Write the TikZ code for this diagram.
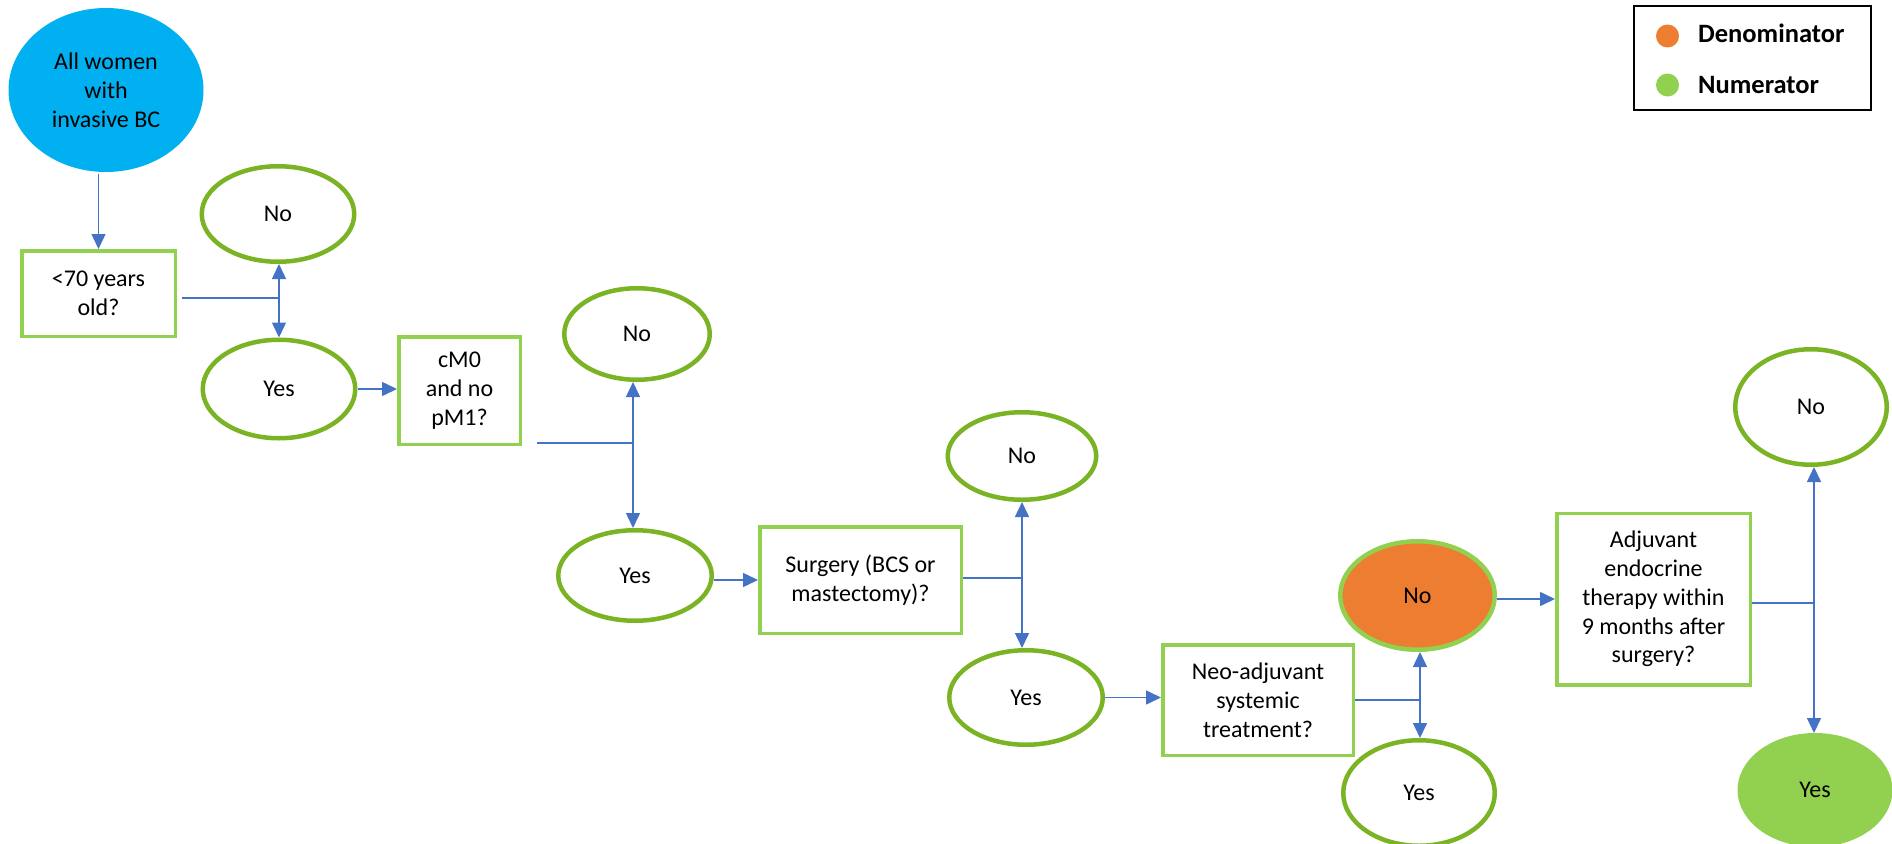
\documentclass[tikz,border=0pt]{standalone}
\usepackage{fontspec}
\setmainfont{Carlito}
\usetikzlibrary{shapes.geometric,arrows.meta}
\definecolor{dkgreen}{HTML}{7AB424}
\definecolor{ltgreen}{HTML}{92D050}
\definecolor{orng}{HTML}{ED7D31}
\definecolor{cyanb}{HTML}{00B0F0}
\definecolor{arrblue}{HTML}{4472C4}
\begin{document}
\begin{tikzpicture}[x=1pt,y=-1pt,
  txt/.style={font=\fontsize{24}{28.8}\selectfont, align=center, inner sep=0pt},
  qbox/.style={txt, rectangle, draw=ltgreen, line width=3.5pt, fill=white},
  oval/.style={txt, ellipse, draw=dkgreen, line width=4.5pt, fill=white},
  conn/.style={arrblue, line width=1.5pt},
  arr/.style={conn, -{Triangle[length=15pt,width=14pt]}},
  legtxt/.style={anchor=base west, inner sep=0pt, font=\bfseries\fontsize{26.5}{31}\selectfont},
  dot/.style={circle, inner sep=0pt, minimum size=23pt, draw=none},
]
\useasboundingbox (0,0) rectangle (1892,843);

% nodes
\node[oval, fill=cyanb, draw=none, minimum width=195, minimum height=164] (start) at (106,90) {All women\\with\\invasive BC};
\node[qbox, minimum width=153.5, minimum height=85.5] (q1) at (98.5,293.5) {<70 years\\old?};
\node[oval, minimum width=152.5, minimum height=95.5] (no1) at (278,214) {No};
\node[oval, minimum width=152.5, minimum height=98.5] (yes1) at (279,389) {Yes};
\node[qbox, minimum width=121.5, minimum height=107.5] (q2) at (459.5,390.5) {cM0\\and no\\pM1?};
\node[oval, minimum width=145.5, minimum height=91.5] (no2) at (637,334) {No};
\node[oval, minimum width=153.5, minimum height=90.5] (yes2) at (635,575.5) {Yes};
\node[qbox, minimum width=201.5, minimum height=106.5] (q3) at (860.5,580) {Surgery (BCS or\\mastectomy)?};
\node[oval, minimum width=148.5, minimum height=87.5] (no3) at (1022,456) {No};
\node[oval, minimum width=153.5, minimum height=94.5] (yes3) at (1026,697.5) {Yes};
\node[qbox, minimum width=190.5, minimum height=110.5] (q4) at (1258,700) {Neo-adjuvant\\systemic\\treatment?};
\node[oval, fill=orng, draw=ltgreen, minimum width=154.5, minimum height=108.5] (den) at (1417.5,595.5) {No};
\node[oval, minimum width=151.5, minimum height=105.5] (yes4) at (1419,793) {Yes};
\node[qbox, minimum width=193.5, minimum height=171.5] (q5) at (1653.5,599) {Adjuvant\\endocrine\\therapy within\\9 months after\\surgery?};
\node[oval, minimum width=151.5, minimum height=115.5] (no5) at (1811,407) {No};
\node[oval, fill=ltgreen, draw=ltgreen, minimum width=150.5, minimum height=109.5] (num) at (1815,790) {Yes};

% connectors
\draw[arr] (start.south -| q1.north) -- (q1.north);

\coordinate (j1s) at (182,298);
\coordinate (j1) at (279,298);
\draw[conn] (j1s) -- (j1);
\draw[arr] (j1) -- (j1 |- no1.south);
\draw[arr] (j1) -- (j1 |- yes1.north);
\draw[arr] (yes1.east) -- (yes1.east -| q2.west);

\coordinate (j2s) at (537,443);
\coordinate (j2) at (633,443);
\draw[conn] (j2s) -- (j2);
\draw[arr] (j2) -- (j2 |- no2.south);
\draw[arr] (j2) -- (j2 |- yes2.north);
\draw[arr] (q3.west -| yes2.east) -- (q3.west);

\coordinate (j3) at (1022,578);
\draw[conn] (q3.east |- j3) -- (j3);
\draw[arr] (j3) -- (j3 |- no3.south);
\draw[arr] (j3) -- (j3 |- yes3.north);
\draw[arr] (yes3.east) -- (yes3.east -| q4.west);

\coordinate (j4) at (1420,700);
\draw[conn] (q4.east |- j4) -- (j4);
\draw[arr] (j4) -- (j4 |- den.south);
\draw[arr] (j4) -- (j4 |- yes4.north);
\draw[arr] (q5.west -| den.east) -- (q5.west);

\coordinate (j5) at (1814,603);
\draw[conn] (q5.east |- j5) -- (j5);
\draw[arr] (j5) -- (j5 |- no5.south);
\draw[arr] (j5) -- (j5 |- num.north);

% legend
\node[draw=black, line width=2pt, minimum width=237, minimum height=104, inner sep=0pt] (legend) at (1752.5,58) {};
\node[dot, fill=orng] (dden) at (1667.5,36) {};
\node[dot, fill=ltgreen] (dnum) at (1667.5,85) {};
\node[legtxt] (tden) at (1698,43) {Denominator};
\node[legtxt] (tnum) at (1698,93) {Numerator};
\end{tikzpicture}
\end{document}
